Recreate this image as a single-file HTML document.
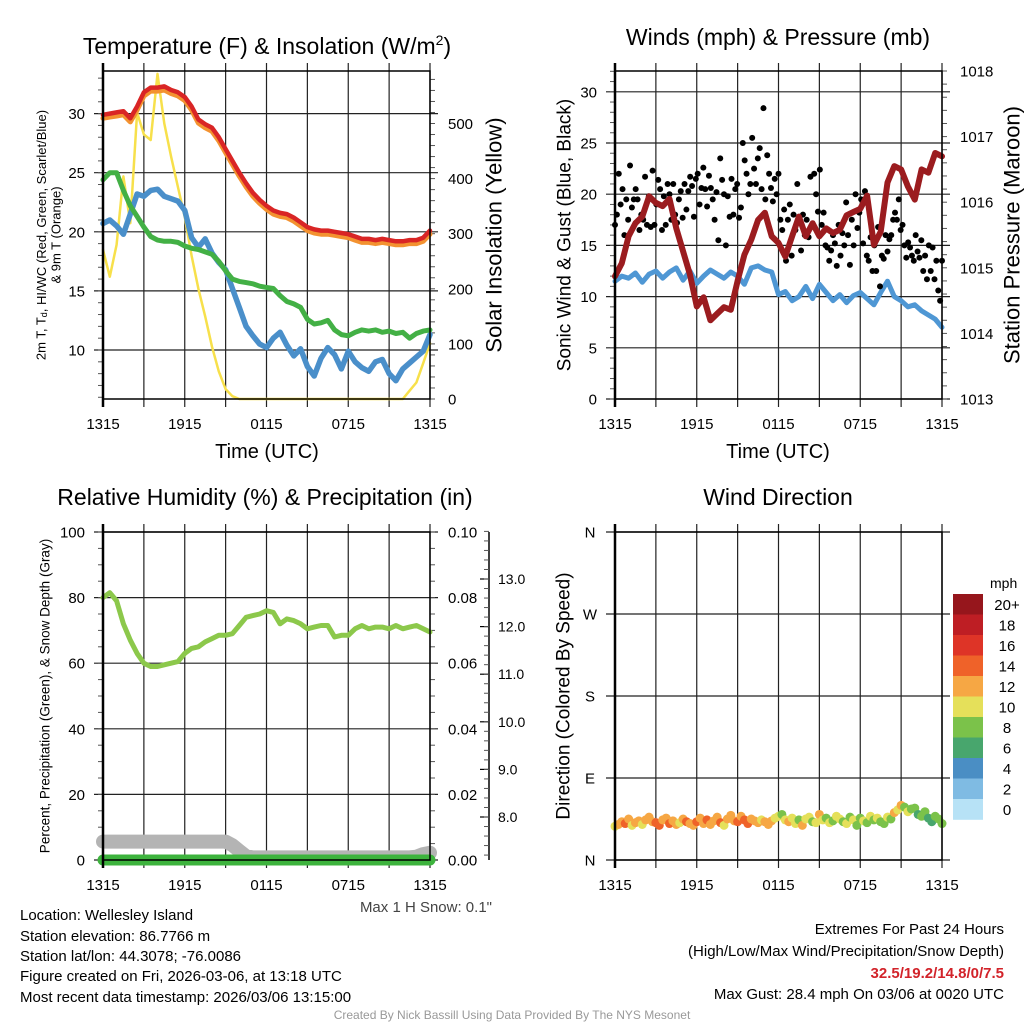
<!DOCTYPE html>
<html><head><meta charset="utf-8"><style>
html,body{margin:0;padding:0;background:#fff;}
svg{display:block;font-family:"Liberation Sans",Arial,sans-serif;}
</style></head><body>
<svg id="chart" width="1024" height="1024" viewBox="0 0 1024 1024" xmlns="http://www.w3.org/2000/svg">
<rect x="0" y="0" width="1024" height="1024" fill="#fff"/>
<text x="267" y="54" font-size="23" text-anchor="middle">Temperature (F) &amp; Insolation (W/m<tspan font-size="14" dy="-9">2</tspan><tspan dy="9">)</tspan></text>
<text x="778" y="45" font-size="23" text-anchor="middle">Winds (mph) &amp; Pressure (mb)</text>
<text x="265" y="505" font-size="23" text-anchor="middle">Relative Humidity (%) &amp; Precipitation (in)</text>
<text x="778" y="505" font-size="23" text-anchor="middle">Wind Direction</text>
<text x="267" y="458" font-size="20" text-anchor="middle">Time (UTC)</text>
<text x="778" y="458" font-size="20" text-anchor="middle">Time (UTC)</text>
<text transform="rotate(-90 41 235)" x="41" y="235" font-size="13" text-anchor="middle" dominant-baseline="central">2m T, T<tspan font-size="9" dy="3">d</tspan><tspan dy="-3">, HI/WC (Red, Green, Scarlet/Blue)</tspan></text>
<text transform="rotate(-90 56 235)" x="56" y="235" font-size="13" text-anchor="middle" dominant-baseline="central">&amp; 9m T (Orange)</text>
<text transform="rotate(-90 494 235)" x="494" y="235" font-size="22" text-anchor="middle" dominant-baseline="central">Solar Insolation (Yellow)</text>
<text transform="rotate(-90 565 235)" x="565" y="235" font-size="19" text-anchor="middle" dominant-baseline="central">Sonic Wind &amp; Gust (Blue, Black)</text>
<text transform="rotate(-90 1012 235)" x="1012" y="235" font-size="22" text-anchor="middle" dominant-baseline="central">Station Pressure (Maroon)</text>
<text transform="rotate(-90 45 696)" x="45" y="696" font-size="13.5" text-anchor="middle" dominant-baseline="central">Percent, Precipitation (Green), &amp; Snow Depth (Gray)</text>
<text transform="rotate(-90 564 696)" x="564" y="696" font-size="19" text-anchor="middle" dominant-baseline="central">Direction (Colored By Speed)</text>
<text x="492" y="912" font-size="15" text-anchor="end" fill="#444">Max 1 H Snow: 0.1"</text>
<g font-size="15">
<text x="20" y="920">Location: Wellesley Island</text>
<text x="20" y="941">Station elevation: 86.7766 m</text>
<text x="20" y="961">Station lat/lon: 44.3078; -76.0086</text>
<text x="20" y="981">Figure created on Fri, 2026-03-06, at 13:18 UTC</text>
<text x="20" y="1002">Most recent data timestamp: 2026/03/06 13:15:00</text>
</g>
<g font-size="15" text-anchor="end">
<text x="1004" y="934">Extremes For Past 24 Hours</text>
<text x="1004" y="956">(High/Low/Max Wind/Precipitation/Snow Depth)</text>
<text x="1004" y="978" fill="#d2232a" font-weight="bold">32.5/19.2/14.8/0/7.5</text>
<text x="1004" y="999">Max Gust: 28.4 mph On 03/06 at 0020 UTC</text>
</g>
<text x="512" y="1019" font-size="12" fill="#999" text-anchor="middle">Created By Nick Bassill Using Data Provided By The NYS Mesonet</text>
</svg>
<script>
// ===== data =====
const timeTickLabels = ['1315','1915','0115','0715','1315'];
const timeTickHours = [0,6,12,18,24];
const tempTicks = [10,15,20,25,30];
const solarTicks = [0,100,200,300,400,500];
const windTicks = [0,5,10,15,20,25,30];
const pressTicks = [1013,1014,1015,1016,1017,1018];
const rhTicks = [0,20,40,60,80,100];
const precipTicks = ['0.00','0.02','0.04','0.06','0.08','0.10'];
const snowTicks = ['8.0','9.0','10.0','11.0','12.0','13.0'];
const dirTicks = ['N','E','S','W','N'];
const speedBins = ['0','2','4','6','8','10','12','14','16','18','20+'];

const tempT = [29.9,30.0,30.1,30.2,29.6,30.6,31.8,32.2,32.2,32.3,32.0,31.8,31.4,30.6,29.5,29.1,28.8,28.0,27.0,26.0,25.0,24.1,23.3,22.7,22.2,21.8,21.6,21.5,21.2,20.8,20.4,20.2,20.1,20.1,20.0,19.9,19.8,19.6,19.4,19.4,19.3,19.4,19.3,19.2,19.2,19.3,19.3,19.5,20.1];
const temp9m = [29.6,29.7,29.8,29.9,29.3,30.3,31.5,31.9,31.9,32.0,31.7,31.5,31.1,30.3,29.2,28.8,28.5,27.7,26.7,25.7,24.7,23.8,23.0,22.4,21.9,21.5,21.3,21.2,20.9,20.5,20.1,19.9,19.8,19.8,19.7,19.6,19.5,19.3,19.1,19.1,19.0,19.1,19.0,18.9,18.9,19.0,19.0,19.2,19.8];
const dewpoint = [24.4,25.0,25.0,23.5,22.2,21.3,20.4,19.6,19.3,19.2,19.2,19.1,18.8,18.6,18.5,18.3,18.1,17.5,16.7,16.0,15.8,15.7,15.6,15.4,15.3,15.2,14.6,14.1,13.9,13.6,12.6,12.2,12.3,12.5,11.7,11.3,11.2,11.5,11.7,11.6,11.7,11.5,11.6,11.4,11.5,11.0,11.4,11.6,11.7];
const windChill = [20.7,21.0,20.5,19.8,21.5,23.2,23.0,23.5,23.6,23.0,22.8,22.6,21.8,19.5,18.7,19.4,18.2,17.4,16.8,15.2,13.6,12.0,11.2,10.5,10.2,11.0,11.5,10.4,9.5,10.1,8.6,7.8,9.3,10.2,9.6,8.4,9.9,9.0,8.5,8.2,9.0,9.2,8.0,7.4,8.4,8.9,9.4,9.9,11.3];
const solar = [271,222,280,404,319,520,480,470,590,500,440,385,330,260,200,150,95,50,18,5,0,0,0,0,0,0,0,0,0,0,0,0,0,0,0,0,0,0,0,0,0,0,0,0,0,15,30,65,101];

const windSpeed = [11.5,12.0,11.8,12.3,11.4,12.2,12.5,11.8,12.4,12.8,11.6,12.5,11.3,12.0,12.6,12.2,11.8,12.4,12.0,11.2,12.8,13.0,12.6,12.4,10.2,10.5,9.6,10.0,11.0,9.8,11.2,10.4,9.6,10.2,9.4,10.1,10.4,9.8,9.2,10.4,11.5,10.0,9.6,9.0,9.2,8.6,8.2,7.8,7.0];
const windGust = [17,18,22,19,20.5,16,19.5,17.5,22.8,18.7,19.5,20.5,19.5,16.5,18,
17.5,21.7,17,19.8,16.8,22.3,17,19,21.4,20.5,16.5,19.8,17,21,
20,17.5,21,18,17.2,19.5,20.3,17.7,21,18.5,20.3,21.7,20.8,17.8,21.5,
22,19,20.6,22.6,20.5,18.8,21.8,20.6,19.5,17.5,20.2,15.5,23.5,21.4,20,
15,19.8,17.8,21.5,18,20.5,21,17.7,18.7,25,23.3,22,20,21,25.5,
22.5,21,23.5,24.5,20.5,28.4,19.5,23.8,22,20.6,19.3,21.5,20,22,17.5,
16.5,18.5,13.5,17.5,19,14,18,16.5,21,17.8,14.5,18,16,17.5,15.8,
21.7,17,22,20,18.3,22.4,17,18.2,15,14.8,13.5,14.5,16,15.2,13,
17,14,16.2,15,19.2,16,13.1,17.5,15,20,16.7,18.2,19.5,15.2,20.3,
14,13.5,15.8,12.5,15,12.5,16.8,11,14,13.7,16,14.4,15.6,16,17.5,
18.2,17.5,19.5,16.5,17,15,13.8,15.3,14.8,14,13.5,16,14.4,13.8,15.5,
12.5,14,11.7,15,12.5,14.8,11.7,13.5,10.6,9.6,13.5];
const pressure = [1014.87,1015.07,1015.48,1015.68,1015.78,1016.09,1015.99,1015.94,1016.05,1015.6,1015.25,1014.9,1014.41,1014.55,1014.2,1014.3,1014.4,1014.36,1014.8,1015.2,1015.43,1015.73,1015.84,1015.48,1015.38,1015.17,1015.48,1015.78,1015.48,1015.68,1015.48,1015.6,1015.53,1015.58,1015.8,1015.85,1015.9,1016.1,1015.35,1015.55,1016.3,1016.55,1016.5,1016.24,1016.04,1016.5,1016.45,1016.75,1016.7];

const rh = [80,81.5,79,72,67,63,60,59,59,59.5,60,60.5,63,64.5,65,66.5,67.5,68.5,68.5,69,71.5,74,74.5,75,76,75.5,72,73.5,73,72,70.5,71,71.5,71.5,68,68.5,68.5,70.5,71.5,70.5,71,71,70.5,71.5,70.5,71,71.5,70.5,69.5];
const snowDepth = [5.6,5.6,5.6,5.6,5.6,5.6,5.6,5.6,5.6,5.6,5.6,5.6,5.6,5.6,5.6,5.6,5.6,5.6,5.6,4.5,2.8,1.2,0.8,0.8,0.8,0.8,0.8,0.8,0.8,0.8,0.8,0.8,0.8,0.8,0.8,0.8,0.8,0.8,0.8,0.8,0.8,0.8,0.8,0.8,0.8,0.8,1.0,1.8,2.2];
const precip = [0,0,0,0,0,0,0,0,0,0,0,0,0,0,0,0,0,0,0,0,0,0,0,0,0,0,0,0,0,0,0,0,0,0,0,0,0,0,0,0,0,0,0,0,0,0,0,0,0];

const windDir = [37,39,42,40,45,38,41,43,39,44,47,42,
41,38,44,46,40,43,39,41,45,42,40,38,
42,46,40,44,39,43,47,41,38,45,49,43,
42,48,44,40,45,43,41,44,42,39,43,46,
48,50,44,42,46,40,44,38,45,47,42,41,
50,44,46,41,43,48,45,42,40,47,44,38,
46,43,41,48,44,46,42,40,47,45,52,55,
60,58,53,56,57,50,48,53,46,42,48,45,40];
const dirSpeed = [10.5,12.5,13,14.5,12.8,11.5,13.2,12.2,10.8,12.5,13.1,12.7,
14.5,15,13.2,12.4,14.2,12.6,13.5,11.8,12.9,14.8,13.3,12.4,
14.6,13.0,12.6,15.1,12.3,13.6,12.5,14.2,11.6,13.0,12.4,13.8,
14.4,12.2,15.0,14.7,12.8,12.5,12.2,10.8,13.0,12.6,12.4,11.2,
10.6,9.4,11.5,12.6,10.4,11.2,8.9,12.2,10.7,11.5,9.6,10.8,
12.4,10.5,8.4,11.2,9.0,10.5,11.8,8.7,10.3,9.2,10.6,9.8,
8.5,10.2,9.3,11.0,8.8,10.4,9.5,8.6,10.7,9.1,12.5,10.3,
12.8,8.6,11.1,8.3,9.2,7.6,8.4,9.5,7.8,6.5,8.8,8.2,9.0];

// ===== rendering =====
const NS = 'http://www.w3.org/2000/svg';
const svg = document.getElementById('chart');
const binColors = ['#b7e2f6','#7fbbe3','#4a8ec4','#48a66d','#7bc24a','#e5e05a','#f6a744','#ef6229','#de3427','#be1e24','#96161c'];
function mk(tag, attrs, parent) {
  const e = document.createElementNS(NS, tag);
  for (const k in attrs) e.setAttribute(k, attrs[k]);
  (parent || svg).appendChild(e);
  return e;
}
const P = {
  temp: {x0:103, x1:430, y0:71, y1:399},
  wind: {x0:615, x1:942, y0:71, y1:399},
  rh:   {x0:103, x1:430, y0:532, y1:860},
  dir:  {x0:615, x1:942, y0:532, y1:860}
};
function xScale(p, h) { return p.x0 + h / 24 * (p.x1 - p.x0); }
const yTemp = v => 350 - (v - 10) * 11.82;
const ySolar = v => 399 - v * 0.551;
const yWind = v => 399 - v * 10.24;
const yPress = v => 399 - (v - 1013) * 65.6;
const yRH = v => 860 - v * 3.28;
const yPrecip = v => 860 - v * 3280;
const ySnow = v => 817 - (v - 8) * 47.6;
const yDir = v => 860 - v / 360 * 328;

function seriesPath(p, arr, yf) {
  const n = arr.length;
  let d = '';
  arr.forEach((v, i) => {
    const x = xScale(p, i * 24 / (n - 1));
    d += (i ? 'L' : 'M') + x.toFixed(1) + ' ' + yf(v).toFixed(1);
  });
  return d;
}

function frame(p, key, hGrid) {
  const g = mk('g', {});
  
  
  for (let k = 0; k <= 8; k++) {
    const x = xScale(p, k * 3);
    const ln = mk('line', {x1:x, x2:x, y1:p.y0 - 8, y2:p.y1 + 8, stroke:'#222', 'stroke-width':1.2}, g);
    
    
  }
  hGrid.forEach(y => {
    const ln = mk('line', {x1:p.x0 - 9, x2:p.x1 + 8, y1:y, y2:y, stroke:'#222', 'stroke-width':1.2}, g);
    
    
  });
  timeTickHours.forEach((h, i) => {
    const t = mk('text', {x:xScale(p, h), y:p.y1 + 30, 'font-size':15, 'text-anchor':'middle'}, g);
    t.textContent = timeTickLabels[i];
    
    
  });
  return g;
}
function border(p, key) {
  const r = mk('rect', {x:p.x0, y:p.y0, width:p.x1 - p.x0, height:p.y1 - p.y0, fill:'none', stroke:'#000', 'stroke-width':1.5});
  
  
  const l = mk('line', {x1:p.x0, x2:p.x0, y1:p.y0 - 8, y2:p.y1 + 8, stroke:'#000', 'stroke-width':2.5});
  
  
}
function leftLabels(p, key, vals, yf, txt) {
  vals.forEach((v, i) => {
    const t = mk('text', {x:p.x0 - 18, y:yf(v) + 5.5, 'font-size':15, 'text-anchor':'end'});
    t.textContent = txt ? txt[i] : String(v);
    
    
  });
}
function rightLabels(p, key, vals, yf, txt) {
  vals.forEach((v, i) => {
    const t = mk('text', {x:p.x1 + 18, y:yf(v) + 5.5, 'font-size':15, 'text-anchor':'start'});
    t.textContent = txt ? txt[i] : String(v);
    
    
  });
}
function minor(x, y, dir, key) {
  const m = mk('line', {x1:x, x2:x + dir * 5, y1:y, y2:y, stroke:'#555', 'stroke-width':1});
  
  
}
function line(p, arr, yf, color, w, name, cap) {
  const e = mk('path', {d:seriesPath(p, arr, yf), fill:'none', stroke:color, 'stroke-width':w, 'stroke-linejoin':'round', 'stroke-linecap':cap || 'round'});
  
  
  return e;
}

// Panel 1: temperature
frame(P.temp, 'temp', tempTicks.map(yTemp));
for (let v = 6; v <= 33; v++) minor(P.temp.x0, yTemp(v), -1, 'temp');
for (let v = 0; v <= 590; v += 20) minor(P.temp.x1, ySolar(v), 1, 'solar');
leftLabels(P.temp, 'temp', tempTicks, yTemp);
rightLabels(P.temp, 'solar', solarTicks, ySolar);
line(P.temp, solar, ySolar, '#f7e04b', 2.5, 'solar-insolation-line');
line(P.temp, windChill, yTemp, '#4a8fca', 5.5, 'wind-chill-line');
line(P.temp, dewpoint, yTemp, '#43b045', 5, 'dewpoint-line');
line(P.temp, temp9m, yTemp, '#f39230', 5, 'temperature-9m-line');
line(P.temp, tempT, yTemp, '#d92525', 4.5, 'temperature-2m-line');
border(P.temp, 'temp');

// Panel 2: winds & pressure
frame(P.wind, 'wind', windTicks.map(yWind));
for (let v = 0; v <= 32; v++) minor(P.wind.x0, yWind(v), -1, 'wind');
for (let v = 1013; v <= 1018.001; v += 0.2) minor(P.wind.x1, yPress(v), 1, 'pressure');
leftLabels(P.wind, 'wind', windTicks, yWind);
rightLabels(P.wind, 'pressure', pressTicks, yPress);
line(P.wind, windSpeed, yWind, '#4f97d4', 5, 'sonic-wind-line');
windGust.forEach((v, i) => {
  const c = mk('circle', {cx:xScale(P.wind, i * 24 / (windGust.length - 1)), cy:yWind(v), r:3, fill:'#000'});
  
  
});
line(P.wind, pressure, yPress, '#9b1c1f', 6, 'pressure-line');
border(P.wind, 'wind');

// Panel 3: RH & precip
frame(P.rh, 'rh', rhTicks.map(yRH));
for (let v = 0; v <= 100; v += 5) minor(P.rh.x0, yRH(v), -1, 'rh');
for (let v = 0; v <= 0.1001; v += 0.005) minor(P.rh.x1, yPrecip(v), 1, 'precip');
leftLabels(P.rh, 'rh', rhTicks, yRH);
rightLabels(P.rh, 'precip', precipTicks.map(Number), yPrecip, precipTicks);
const sAx = mk('line', {x1:489, x2:489, y1:532, y2:860, stroke:'#000', 'stroke-width':1.5});


snowTicks.forEach(s => {
  const y = ySnow(Number(s));
  const tk = mk('line', {x1:480, x2:489, y1:y, y2:y, stroke:'#000', 'stroke-width':1.2});
  
  
  const t = mk('text', {x:498, y:y + 5, 'font-size':14});
  t.textContent = s;
  
  
});
for (let v = 7.2; v <= 14; v += 0.2) {
  const m = mk('line', {x1:484, x2:489, y1:ySnow(v), y2:ySnow(v), stroke:'#555', 'stroke-width':1});
  
  
}
line(P.rh, snowDepth, yRH, '#b4b4b4', 14, 'snow-depth-line');
line(P.rh, precip, yPrecip, '#3db33d', 11, 'precipitation-line');
line(P.rh, rh, yRH, '#8cc84b', 5, 'relative-humidity-line');
border(P.rh, 'rh');

// Panel 4: wind direction
frame(P.dir, 'dir', [0,90,180,270,360].map(yDir));
dirTicks.forEach((s, i) => {
  const t = mk('text', {x:P.dir.x0 - 25, y:yDir(i * 90) + 5.5, 'font-size':15, 'text-anchor':'middle'});
  t.textContent = s;
  
  
});
windDir.forEach((d, i) => {
  const sp = dirSpeed[i];
  const bin = Math.min(10, Math.floor(sp / 2));
  const c = mk('circle', {cx:xScale(P.dir, i * 24 / (windDir.length - 1)), cy:yDir(d), r:4.5, fill:binColors[bin]});
  
  
});
border(P.dir, 'dir');

// Color bar legend
const cb = mk('g', {});


const cbTop = 594, cbH = 20.5;
speedBins.forEach((lab, i) => {
  const idx = speedBins.length - 1 - i;
  const r = mk('rect', {x:953, y:cbTop + i * cbH, width:30, height:cbH + 0.3, fill:binColors[idx]}, cb);
  
  
  const t = mk('text', {x:1007, y:cbTop + i * cbH + 16, 'font-size':15, 'text-anchor':'middle'}, cb);
  t.textContent = speedBins[idx];
  
  
});
const mph = mk('text', {x:990, y:588, 'font-size':14}, cb);
mph.textContent = 'mph';


</script>
</body></html>
